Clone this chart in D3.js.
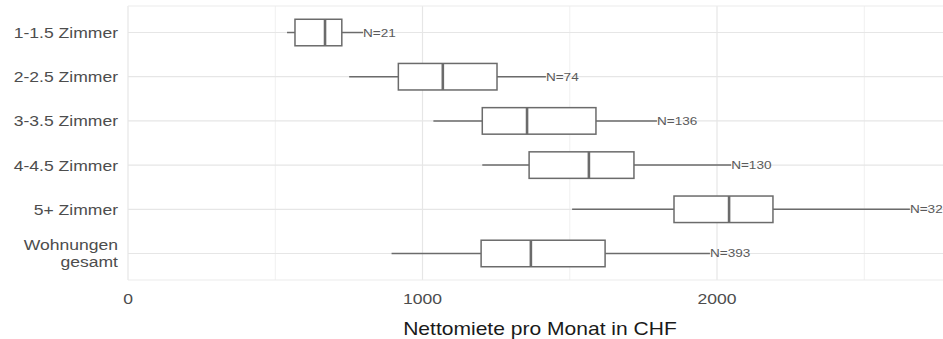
<!DOCTYPE html>
<html>
<head>
<meta charset="utf-8">
<script src="https://cdn.jsdelivr.net/npm/d3@7"></script>
<style>
  body { margin: 0; background: #fff; }
  svg { display: block; font-family: "Liberation Sans", Arial, sans-serif; }
</style>
</head>
<body>
<svg id="chart" width="943" height="339"></svg>
<script>
// Kategorien und Boxplot-Werte (CHF)
const categories = ["1-1.5 Zimmer", "2-2.5 Zimmer", "3-3.5 Zimmer", "4-4.5 Zimmer", "5+ Zimmer", "Wohnungen\ngesamt"];
const whiskerLow = [540, 751, 1037, 1203, 1508, 895];
const q1 = [567, 918, 1203, 1362, 1854, 1199];
const median = [669, 1069, 1355, 1565, 2041, 1368];
const q3 = [726, 1253, 1589, 1718, 2190, 1620];
const whiskerHigh = [798, 1419, 1796, 2048, 2655, 1976];
const counts = [21, 74, 136, 130, 32, 393];
const xTicks = [0, 1000, 2000];
const xMinor = [500, 1500, 2500];

const svg = d3.select("#chart");
const stretch = 1.17; // Text im Original etwas breit gezogen

const x = d3.scaleLinear().domain([0, 2000]).range([128, 717]);
const y = d3.scaleBand().domain(categories).range([6, 280]).paddingOuter(0.1);
const yc = d => y(d) + y.bandwidth() / 2;
const boxH = y.bandwidth() * 0.6;

const rows = categories.map((c, i) => ({
  cat: c, lo: whiskerLow[i], q1: q1[i], med: median[i], q3: q3[i], hi: whiskerHigh[i], n: counts[i]
}));

// Gitter
const grid = svg.append("g");
grid.selectAll("line.minor").data(xMinor).enter().append("line")
  .attr("x1", d => x(d)).attr("x2", d => x(d))
  .attr("y1", 6).attr("y2", 280)
  .attr("stroke", "#f0f0f0").attr("stroke-width", 1);
grid.selectAll("line.major").data(xTicks).enter().append("line")
  .attr("x1", d => x(d)).attr("x2", d => x(d))
  .attr("y1", 6).attr("y2", 280)
  .attr("stroke", "#e6e6e6").attr("stroke-width", 1.2);
grid.selectAll("line.hy").data(categories).enter().append("line")
  .attr("x1", 128).attr("x2", 943)
  .attr("y1", d => yc(d)).attr("y2", d => yc(d))
  .attr("stroke", "#e6e6e6").attr("stroke-width", 1.2);
// Rahmen oben/unten
grid.selectAll("line.frame").data([6, 280]).enter().append("line")
  .attr("x1", 128).attr("x2", 943)
  .attr("y1", d => d).attr("y2", d => d)
  .attr("stroke", "#ebebeb").attr("stroke-width", 1);

// Boxplots
const box = svg.append("g").selectAll("g").data(rows).enter().append("g");
const stroke = "#6b6b6b";

box.append("line")
  .attr("x1", d => x(d.lo)).attr("x2", d => x(d.q1))
  .attr("y1", d => yc(d.cat)).attr("y2", d => yc(d.cat))
  .attr("stroke", stroke).attr("stroke-width", 1.5);
box.append("line")
  .attr("x1", d => x(d.q3)).attr("x2", d => x(d.hi))
  .attr("y1", d => yc(d.cat)).attr("y2", d => yc(d.cat))
  .attr("stroke", stroke).attr("stroke-width", 1.5);
box.append("rect")
  .attr("x", d => x(d.q1)).attr("width", d => x(d.q3) - x(d.q1))
  .attr("y", d => yc(d.cat) - boxH / 2).attr("height", boxH)
  .attr("fill", "#fff").attr("stroke", stroke).attr("stroke-width", 1.5);
box.append("line")
  .attr("x1", d => x(d.med)).attr("x2", d => x(d.med))
  .attr("y1", d => yc(d.cat) - boxH / 2).attr("y2", d => yc(d.cat) + boxH / 2)
  .attr("stroke", stroke).attr("stroke-width", 2.6);

// N-Beschriftung am Whisker-Ende
box.append("text")
  .attr("transform", d => `translate(${x(d.hi)},${yc(d.cat) + 4}) scale(${stretch},1)`)
  .attr("font-size", 11.6)
  .attr("fill", "#5a5a5a")
  .text(d => "N=" + d.n);

// y-Achse
const yLab = svg.append("g").selectAll("text").data(categories).enter().append("text")
  .attr("text-anchor", "end")
  .attr("font-size", 15)
  .attr("fill", "#4d4d4d");
yLab.each(function (d) {
  const lines = d.split("\n");
  const t = d3.select(this);
  const y0 = yc(d) + 5.5 - (lines.length - 1) * 17 / 2;
  t.attr("transform", `translate(118,${y0}) scale(${stretch},1)`);
  lines.forEach((l, i) => {
    t.append("tspan").attr("x", 0).attr("y", i * 17).text(l);
  });
});

// x-Achse
svg.append("g").selectAll("text").data(xTicks).enter().append("text")
  .attr("transform", d => `translate(${x(d)},304) scale(${stretch},1)`)
  .attr("text-anchor", "middle")
  .attr("font-size", 15)
  .attr("fill", "#4d4d4d")
  .text(d => d);

svg.append("text")
  .attr("transform", `translate(540,335) scale(${stretch},1)`)
  .attr("text-anchor", "middle")
  .attr("font-size", 18)
  .attr("fill", "#1a1a1a")
  .text("Nettomiete pro Monat in CHF");
</script>
</body>
</html>
